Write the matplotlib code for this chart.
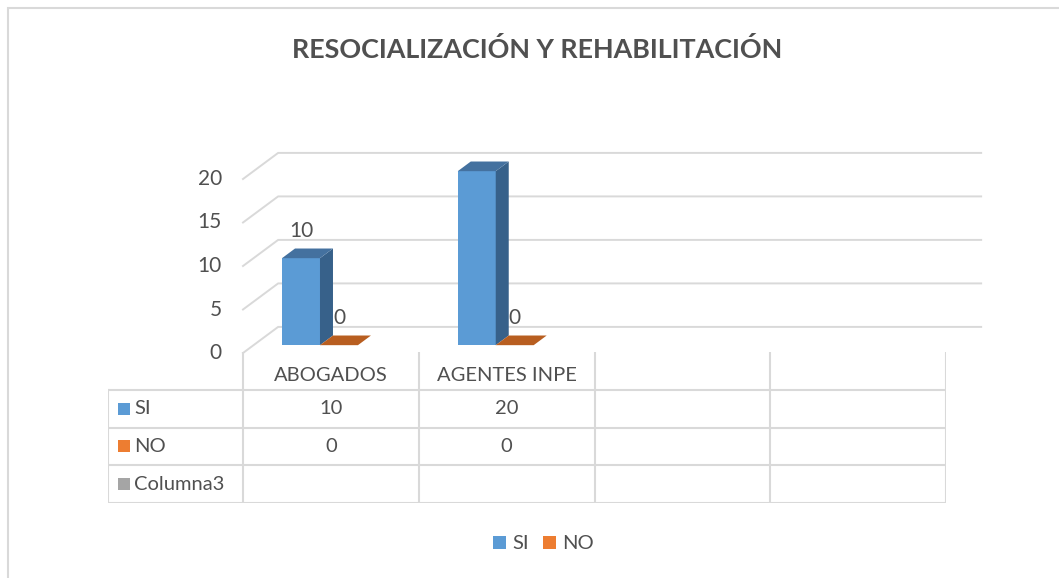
import numpy as np
import matplotlib.pyplot as plt
from matplotlib.patches import Polygon, Rectangle, Patch


# Data
CATEGORIES = ["ABOGADOS", "AGENTES INPE", "", ""]
SERIES = ["SI", "NO", "Columna3"]
SI_VALUES = [10, 20]
NO_VALUES = [0, 0]
Y_TICKS = [0, 5, 10, 15, 20]

# Colors (front, top, side)
SERIES_COLORS = {
    "SI": ("#5B9BD5", "#44719F", "#37618A"),
    "NO": ("#ED7D31", "#B85E20", "#A5501A"),
    "Columna3": ("#A5A5A5", "#8C8C8C", "#7A7A7A"),
}
GRID_COLOR = "#D9D9D9"
TEXT_COLOR = "#505050"

# 3D projection settings (category units / value units)
DEPTH_DX = 0.2
DEPTH_DY = 3.0
BAR_DEPTH_START = 0.3
BAR_DEPTH = 0.37
BAR_LEFT = 0.162
BAR_WIDTH = 0.216

plt.rcParams["font.family"] = ["Lato", "DejaVu Sans"]


def proj(x, y, z):
    """Project a point (x, value, depth fraction) onto the 2D plane."""
    return x + z * DEPTH_DX, y + z * DEPTH_DY


def draw_walls(ax):
    """Draw the back wall gridlines and the left wall diagonals."""
    n = len(CATEGORIES)
    for v in Y_TICKS:
        x0, y0 = proj(0, v, 0)
        x1, y1 = proj(0, v, 1)
        x2, y2 = proj(n, v, 1)
        ax.plot([x0, x1, x2], [y0, y1, y2], color=GRID_COLOR,
                linewidth=1.4, clip_on=False, zorder=1)

        # y tick label on the front edge
        ax.text(x0 - 0.12, y0, str(v), ha="right", va="center",
                fontsize=15, color=TEXT_COLOR)


def draw_bar(ax, x, value, colors):
    """Draw one 3D column with front, side and top faces."""
    front, top, side = colors
    z0 = BAR_DEPTH_START
    z1 = BAR_DEPTH_START + BAR_DEPTH

    top_face = [proj(x, value, z0), proj(x + BAR_WIDTH, value, z0),
                proj(x + BAR_WIDTH, value, z1), proj(x, value, z1)]

    if value > 0:
        front_face = [proj(x, 0, z0), proj(x + BAR_WIDTH, 0, z0),
                      proj(x + BAR_WIDTH, value, z0), proj(x, value, z0)]
        side_face = [proj(x + BAR_WIDTH, 0, z0), proj(x + BAR_WIDTH, 0, z1),
                     proj(x + BAR_WIDTH, value, z1), proj(x + BAR_WIDTH, value, z0)]
        ax.add_patch(Polygon(front_face, closed=True, facecolor=front,
                             edgecolor="none", clip_on=False, zorder=3))
        ax.add_patch(Polygon(side_face, closed=True, facecolor=side,
                             edgecolor="none", clip_on=False, zorder=3))

    ax.add_patch(Polygon(top_face, closed=True, facecolor=top,
                         edgecolor="none", clip_on=False, zorder=3))

    # Data label above the bar
    lx, _ = proj(x + BAR_WIDTH / 2, value, z0)
    _, ly = proj(x, value, z0 + BAR_DEPTH / 2)
    ax.annotate(str(value), (lx, ly), xytext=(0, 16), textcoords="offset points",
                ha="center", va="center", fontsize=15, color=TEXT_COLOR, zorder=4)


def draw_table(tax):
    """Draw the data table below the plot area."""
    n = len(CATEGORIES)
    label_col = 135 / 175.75

    # horizontal lines
    for r in range(1, 5):
        tax.plot([-label_col, n], [r, r], color=GRID_COLOR, linewidth=1.5)

    # vertical lines
    tax.plot([-label_col, -label_col], [1, 4], color=GRID_COLOR, linewidth=1.5)
    for c in range(n + 1):
        tax.plot([c, c], [0, 4], color=GRID_COLOR, linewidth=1.5)

    # header
    for c, name in enumerate(CATEGORIES):
        tax.text(c + 0.5, 0.62, name, ha="center", va="center",
                 fontsize=14.5, color=TEXT_COLOR)

    rows = {"SI": SI_VALUES, "NO": NO_VALUES, "Columna3": []}
    for r, name in enumerate(SERIES, start=1):
        tax.add_patch(Rectangle((-label_col + 0.057, r + 0.34), 0.068, 0.32,
                                facecolor=SERIES_COLORS[name][0], edgecolor="none"))
        tax.text(-label_col + 0.15, r + 0.5, name, ha="left", va="center",
                 fontsize=14.5, color=TEXT_COLOR)
        for c, val in enumerate(rows[name]):
            tax.text(c + 0.5, r + 0.5, str(val), ha="center", va="center",
                     fontsize=14.5, color=TEXT_COLOR)


def main():

    fig = plt.figure(figsize=(10.59, 5.78), dpi=100)

    # chart area border
    fig.patches.append(Rectangle((8 / 1059, -0.1), 1.1, 1.1 - 8 / 578,
                                 transform=fig.transFigure, fill=False,
                                 edgecolor=GRID_COLOR, linewidth=1.5))

    fig.text(0.5076, 0.915, "RESOCIALIZACIÓN Y REHABILITACIÓN",
             ha="center", va="center", fontsize=19.4, fontweight="bold",
             color=TEXT_COLOR)

    # plot area (x in categories, y in values)
    ax = fig.add_axes([243 / 1059, 1 - 353 / 578, 703 / 1059, 174 / 578])
    ax.set_xlim(0, len(CATEGORIES))
    ax.set_ylim(0, 20)
    ax.axis("off")

    draw_walls(ax)

    for i in range(len(SI_VALUES)):
        draw_bar(ax, i + BAR_LEFT, SI_VALUES[i], SERIES_COLORS["SI"])
        draw_bar(ax, i + BAR_LEFT + BAR_WIDTH, NO_VALUES[i], SERIES_COLORS["NO"])

    # data table
    tax = fig.add_axes([108 / 1059, 1 - 503 / 578, 838 / 1059, 151 / 578])
    tax.set_xlim(-135 / 175.75, len(CATEGORIES))
    tax.set_ylim(4, 0)
    tax.axis("off")
    draw_table(tax)

    # legend
    handles = [Patch(facecolor=SERIES_COLORS[s][0], label=s) for s in ["SI", "NO"]]
    fig.legend(handles=handles, loc="center", bbox_to_anchor=(0.513, 0.059),
               ncol=2, frameon=False, fontsize=14.5, handlelength=0.65,
               handleheight=0.65, handletextpad=0.3, columnspacing=0.7,
               labelcolor=TEXT_COLOR)

    fig.savefig("out.png", dpi=100)
    plt.close(fig)


if __name__ == "__main__":
    main()
